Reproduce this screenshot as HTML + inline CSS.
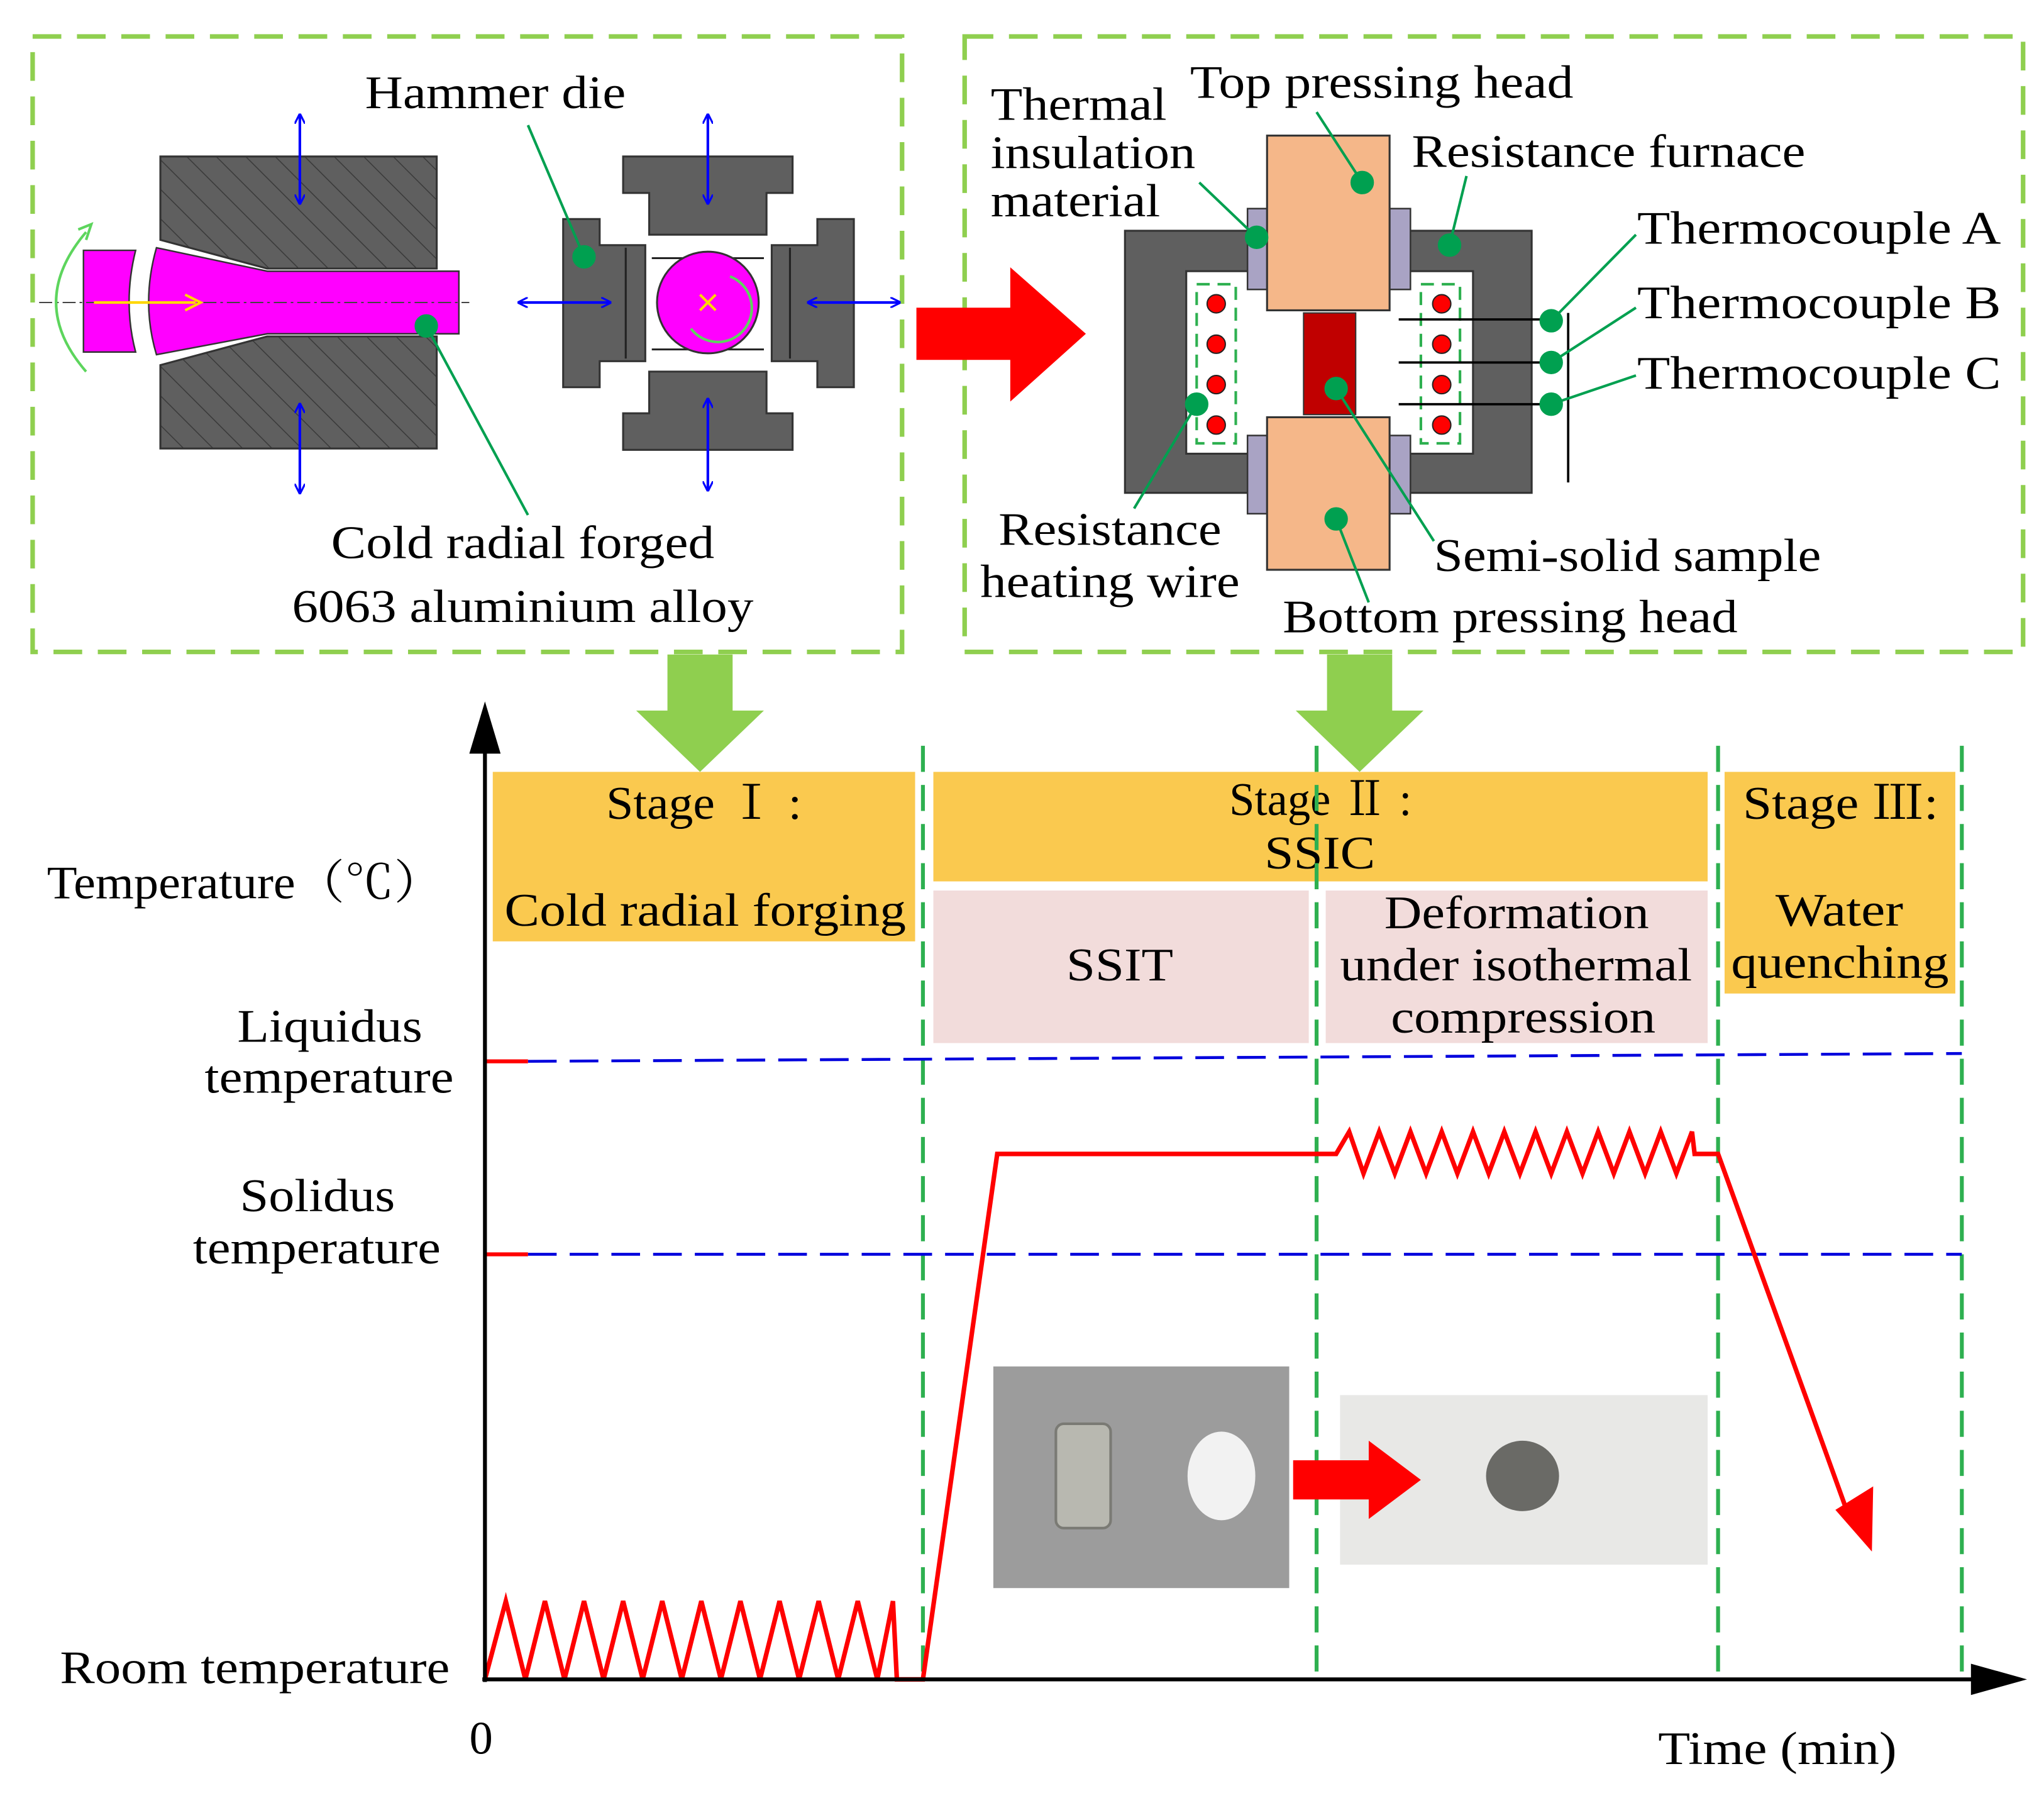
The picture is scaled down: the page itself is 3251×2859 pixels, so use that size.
<!DOCTYPE html>
<html><head><meta charset="utf-8"><style>
html,body{margin:0;padding:0;background:#fff;}
svg{display:block;}
text{font-family:"Liberation Serif","Noto Serif CJK SC",serif;fill:#000;}
</style></head><body>
<svg width="3251" height="2859" viewBox="0 0 1568 1379" xmlns="http://www.w3.org/2000/svg">
<defs>
<pattern id="hatch" width="16" height="16" patternUnits="userSpaceOnUse" patternTransform="rotate(-45)">
<rect width="16" height="16" fill="#5f5f5f"/><line x1="0" y1="0" x2="0" y2="16" stroke="#3a3a3a" stroke-width="1.5"/></pattern>
<marker id="ba" markerWidth="8" markerHeight="8" refX="7" refY="4" orient="auto" markerUnits="userSpaceOnUse"><path d="M0,0 L8,4 L0,8" fill="none" stroke="#0000ff" stroke-width="1.5"/></marker>
<marker id="bs" markerWidth="8" markerHeight="8" refX="1" refY="4" orient="auto" markerUnits="userSpaceOnUse"><path d="M8,0 L0,4 L8,8" fill="none" stroke="#0000ff" stroke-width="1.5"/></marker>
</defs>
<rect width="1568" height="1379" fill="#fff"/>

<g fill="none" stroke="#8fcf4f" stroke-width="3.5" stroke-dasharray="22,12">
<rect x="25" y="28" width="667" height="472"/>
<rect x="740" y="28" width="812" height="472"/>
</g>

<polygon points="123,120 335,120 335,206 205,206 123,184" fill="url(#hatch)" stroke="#333" stroke-width="1.5"/>
<polygon points="123,344 335,344 335,258 205,258 123,280" fill="url(#hatch)" stroke="#333" stroke-width="1.5"/>
<path d="M64,192 L104,192 Q94,232 104,270 L64,270 Z" fill="#ff00ff" stroke="#333" stroke-width="1.2"/>
<path d="M120,190 L205,208 L352,208 L352,256 L205,256 L120,272 Q108,232 120,190 Z" fill="#ff00ff" stroke="#333" stroke-width="1.2"/>
<line x1="30" y1="232" x2="360" y2="232" stroke="#444" stroke-width="1" stroke-dasharray="10,3,2,3"/>
<line x1="72" y1="232" x2="150" y2="232" stroke="#ffd700" stroke-width="2"/>
<path d="M142,226 L154,232 L142,238" fill="none" stroke="#ffd700" stroke-width="2"/>
<path d="M66,285 Q20,232 66,178" fill="none" stroke="#5dd55d" stroke-width="2"/>
<path d="M60,176 L70,172 L66,184" fill="none" stroke="#5dd55d" stroke-width="2"/>
<g fill="#5f5f5f" stroke="#333" stroke-width="1.5">
<polygon points="478,120 608,120 608,148 588,148 588,180 498,180 498,148 478,148"/>
<polygon points="478,345 608,345 608,317 588,317 588,285 498,285 498,317 478,317"/>
<polygon points="432,168 460,168 460,188 495,188 495,277 460,277 460,297 432,297"/>
<polygon points="655,168 627,168 627,188 592,188 592,277 627,277 627,297 655,297"/>
</g>
<g stroke="#222" stroke-width="1.5">
<line x1="500" y1="198" x2="586" y2="198"/><line x1="500" y1="268" x2="586" y2="268"/>
<line x1="480" y1="190" x2="480" y2="275"/><line x1="606" y1="190" x2="606" y2="275"/>
</g>
<circle cx="543" cy="232" r="39" fill="#ff00ff" stroke="#333" stroke-width="1.5"/>
<path d="M560,212 A26,26 0 1 1 530,252" fill="none" stroke="#5dd55d" stroke-width="2"/>
<g stroke="#ffd700" stroke-width="2"><line x1="537" y1="226" x2="549" y2="238"/><line x1="549" y1="226" x2="537" y2="238"/></g>
<g stroke="#0000ff" stroke-width="2" marker-end="url(#ba)" marker-start="url(#bs)">
<line x1="230" y1="88" x2="230" y2="156"/>
<line x1="230" y1="310" x2="230" y2="378"/>
<line x1="543" y1="88" x2="543" y2="156"/>
<line x1="543" y1="306" x2="543" y2="376"/>
<line x1="398" y1="232" x2="468" y2="232"/>
<line x1="620" y1="232" x2="690" y2="232"/>
</g>
<g stroke="#00a050" stroke-width="2" fill="#00a050">
<line x1="405" y1="96" x2="448" y2="197"/><circle cx="448" cy="197" r="8"/>
<line x1="405" y1="395" x2="327" y2="250"/><circle cx="327" cy="250" r="8"/>
</g>
<g font-size="36" lengthAdjust="spacingAndGlyphs">
<text x="280" y="83" textLength="200" lengthAdjust="spacingAndGlyphs">Hammer die</text>
<text x="254" y="428" textLength="294" lengthAdjust="spacingAndGlyphs">Cold radial forged</text>
<text x="224" y="477" textLength="354" lengthAdjust="spacingAndGlyphs">6063 aluminium alloy</text>
</g>

<polygon points="703,236 775,236 775,205 833,256 775,308 775,276 703,276" fill="#ff0000"/>

<path d="M863,177 L1175,177 L1175,378 L863,378 Z M910,208 L910,348 L1130,348 L1130,208 Z" fill="#5f5f5f" fill-rule="evenodd" stroke="#333" stroke-width="1.5"/>
<g fill="#a9a3c4" stroke="#333" stroke-width="1.2">
<rect x="957" y="160" width="16" height="62"/><rect x="1066" y="160" width="16" height="62"/>
<rect x="957" y="334" width="16" height="60"/><rect x="1066" y="334" width="16" height="60"/>
</g>
<rect x="972" y="104" width="94" height="134" fill="#f5b789" stroke="#333" stroke-width="1.5"/>
<rect x="972" y="320" width="94" height="117" fill="#f5b789" stroke="#333" stroke-width="1.5"/>
<rect x="1000" y="240" width="40" height="78" fill="#c00000" stroke="#333" stroke-width="1"/>
<g fill="none" stroke="#2eb050" stroke-width="2" stroke-dasharray="10,6">
<rect x="918" y="218" width="30" height="122"/><rect x="1090" y="218" width="30" height="122"/>
</g>
<g fill="#ff0000" stroke="#222" stroke-width="1">
<circle cx="933" cy="233" r="7"/><circle cx="933" cy="264" r="7"/><circle cx="933" cy="295" r="7"/><circle cx="933" cy="326" r="7"/>
<circle cx="1106" cy="233" r="7"/><circle cx="1106" cy="264" r="7"/><circle cx="1106" cy="295" r="7"/><circle cx="1106" cy="326" r="7"/>
</g>
<g stroke="#000" stroke-width="1.8">
<line x1="1073" y1="245" x2="1195" y2="245"/><line x1="1073" y1="278" x2="1195" y2="278"/><line x1="1073" y1="310" x2="1195" y2="310"/>
<line x1="1203" y1="240" x2="1203" y2="370"/>
</g>
<g stroke="#00a050" stroke-width="2" fill="#00a050">
<line x1="1010" y1="86" x2="1045" y2="140"/><circle cx="1045" cy="140" r="8"/>
<line x1="1125" y1="135" x2="1112" y2="188"/><circle cx="1112" cy="188" r="8"/>
<line x1="920" y1="140" x2="964" y2="182"/><circle cx="964" cy="182" r="8"/>
<line x1="1255" y1="180" x2="1190" y2="246"/><circle cx="1190" cy="246" r="8"/>
<line x1="1255" y1="236" x2="1190" y2="278"/><circle cx="1190" cy="278" r="8"/>
<line x1="1255" y1="288" x2="1190" y2="310"/><circle cx="1190" cy="310" r="8"/>
<line x1="870" y1="390" x2="918" y2="310"/><circle cx="918" cy="310" r="8"/>
<line x1="1100" y1="415" x2="1025" y2="298"/><circle cx="1025" cy="298" r="8"/>
<line x1="1050" y1="462" x2="1025" y2="398"/><circle cx="1025" cy="398" r="8"/>
</g>
<g font-size="36">
<text x="913" y="75" textLength="294" lengthAdjust="spacingAndGlyphs">Top pressing head</text>
<text x="760" y="92" textLength="135" lengthAdjust="spacingAndGlyphs">Thermal</text>
<text x="760" y="129" textLength="157" lengthAdjust="spacingAndGlyphs">insulation</text>
<text x="760" y="166" textLength="130" lengthAdjust="spacingAndGlyphs">material</text>
<text x="1083" y="128" textLength="302" lengthAdjust="spacingAndGlyphs">Resistance furnace</text>
<text x="1256" y="187" textLength="279" lengthAdjust="spacingAndGlyphs">Thermocouple  A</text>
<text x="1256" y="244" textLength="279" lengthAdjust="spacingAndGlyphs">Thermocouple  B</text>
<text x="1256" y="298" textLength="279" lengthAdjust="spacingAndGlyphs">Thermocouple  C</text>
<text x="766" y="418" textLength="171" lengthAdjust="spacingAndGlyphs">Resistance</text>
<text x="752" y="458" textLength="199" lengthAdjust="spacingAndGlyphs">heating wire</text>
<text x="1100" y="438" textLength="297" lengthAdjust="spacingAndGlyphs">Semi-solid sample</text>
<text x="984" y="485" textLength="349" lengthAdjust="spacingAndGlyphs">Bottom pressing head</text>
</g>

<polygon points="512,502 562,502 562,545 586,545 537,592 488,545 512,545" fill="#8fcf4f"/>
<polygon points="1018,502 1068,502 1068,545 1092,545 1043,592 994,545 1018,545" fill="#8fcf4f"/>

<rect x="378" y="592" width="324" height="130" fill="#fac94f"/>
<rect x="716" y="592" width="594" height="84" fill="#fac94f"/>
<rect x="1323" y="592" width="177" height="170" fill="#fac94f"/>
<rect x="716" y="683" width="288" height="117" fill="#f2dcdb"/>
<rect x="1017" y="683" width="293" height="117" fill="#f2dcdb"/>
<g font-size="36">
<text x="465" y="628" textLength="150" lengthAdjust="spacingAndGlyphs">Stage  Ⅰ :</text>
<text x="387" y="710" textLength="308" lengthAdjust="spacingAndGlyphs">Cold radial forging</text>
<text x="943" y="625" textLength="140" lengthAdjust="spacingAndGlyphs">Stage Ⅱ :</text>
<text x="970" y="666" textLength="85" lengthAdjust="spacingAndGlyphs">SSIC</text>
<text x="1337" y="628" textLength="150" lengthAdjust="spacingAndGlyphs">Stage Ⅲ:</text>
<text x="1362" y="710" textLength="98" lengthAdjust="spacingAndGlyphs">Water</text>
<text x="1328" y="750" textLength="167" lengthAdjust="spacingAndGlyphs">quenching</text>
<text x="818" y="752" textLength="82" lengthAdjust="spacingAndGlyphs">SSIT</text>
<text x="1062" y="712" textLength="203" lengthAdjust="spacingAndGlyphs">Deformation</text>
<text x="1028" y="752" textLength="270" lengthAdjust="spacingAndGlyphs">under isothermal</text>
<text x="1067" y="792" textLength="203" lengthAdjust="spacingAndGlyphs">compression</text>
</g>

<g stroke="#2eb050" stroke-width="3" stroke-dasharray="20,10">
<line x1="708" y1="572" x2="708" y2="1288"/>
<line x1="1010" y1="572" x2="1010" y2="1288"/>
<line x1="1318" y1="572" x2="1318" y2="1288"/>
<line x1="1505" y1="572" x2="1505" y2="1288"/>
</g>

<g stroke="#0000dd" stroke-width="2.2" stroke-dasharray="22,10">
<line x1="405" y1="814" x2="1505" y2="808"/>
<line x1="405" y1="962" x2="1505" y2="962"/>
</g>
<g stroke="#ff0000" stroke-width="3"><line x1="372" y1="814" x2="405" y2="814"/><line x1="372" y1="962" x2="405" y2="962"/></g>

<rect x="762" y="1048" width="227" height="170" fill="#9c9c9c"/>
<rect x="810" y="1092" width="42" height="80" rx="6" fill="#b8b8b0" stroke="#7a7a74" stroke-width="2"/>
<ellipse cx="937" cy="1132" rx="26" ry="34" fill="#f2f2f2"/>
<rect x="1028" y="1070" width="282" height="130" fill="#e8e8e6"/>
<ellipse cx="1168" cy="1132" rx="28" ry="27" fill="#6a6a66"/>
<polygon points="992,1120 1050,1120 1050,1105 1090,1135 1050,1165 1050,1150 992,1150" fill="#ff0000"/>

<polyline fill="none" stroke="#ff0000" stroke-width="3.5" stroke-linejoin="miter" points="372,1288 388,1228 403,1288 418,1228 433,1288 448,1228 463,1288 478,1228 493,1288 508,1228 523,1288 538,1228 553,1288 568,1228 583,1288 598,1228 613,1288 628,1228 643,1288 658,1228 673,1288 685,1228 688,1288 708,1288 765,885 1025,885 1035,868 1046,900 1058,868 1070,900 1082,868 1094,900 1106,868 1118,900 1130,868 1142,900 1154,868 1166,900 1178,868 1190,900 1202,868 1214,900 1226,868 1238,900 1250,868 1262,900 1274,868 1286,900 1298,868 1300,885 1318,885 1418,1162"/>
<polygon points="1408,1158 1437,1140 1436,1190" fill="#ff0000"/>

<line x1="372" y1="1290" x2="372" y2="570" stroke="#000" stroke-width="3"/>
<polygon points="360,578 372,538 384,578" fill="#000"/>
<line x1="370" y1="1288" x2="1520" y2="1288" stroke="#000" stroke-width="3"/>
<polygon points="1512,1276 1555,1288 1512,1300" fill="#000"/>

<g font-size="36">
<text x="36" y="689" textLength="304" lengthAdjust="spacingAndGlyphs">Temperature（℃）</text>
<text x="182" y="799" textLength="142" lengthAdjust="spacingAndGlyphs">Liquidus</text>
<text x="157" y="838" textLength="191" lengthAdjust="spacingAndGlyphs">temperature</text>
<text x="184" y="929" textLength="119" lengthAdjust="spacingAndGlyphs">Solidus</text>
<text x="148" y="969" textLength="190" lengthAdjust="spacingAndGlyphs">temperature</text>
<text x="46" y="1291" textLength="299" lengthAdjust="spacingAndGlyphs">Room temperature</text>
<text x="360" y="1345">0</text>
<text x="1272" y="1353" textLength="183" lengthAdjust="spacingAndGlyphs">Time (min)</text>
</g>
</svg>
</body></html>
